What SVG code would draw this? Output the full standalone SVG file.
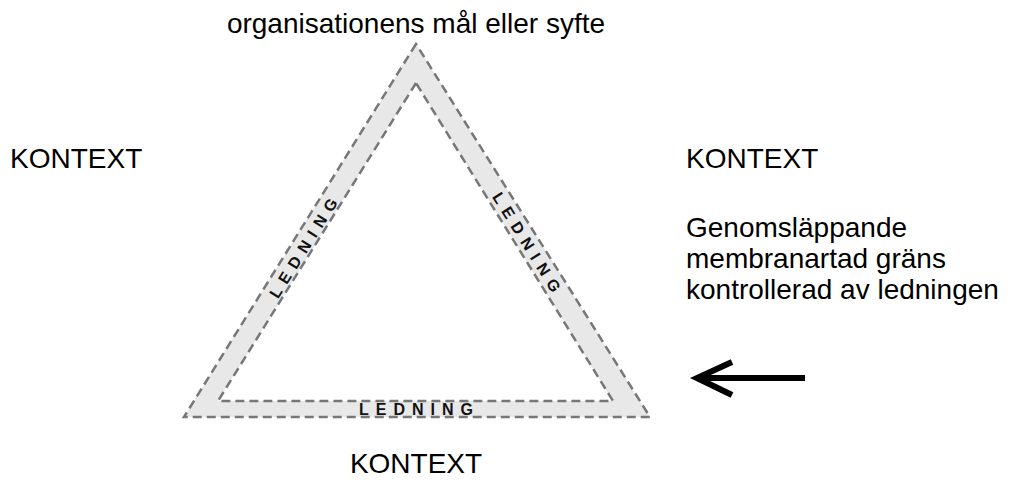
<svg xmlns="http://www.w3.org/2000/svg" width="1017" height="483" viewBox="0 0 1017 483">
  <style>
    .label { font-family: "Liberation Sans", Arial, sans-serif; font-size: 28px; fill: #000; }
    .band { fill: #e8e8e8; stroke: #777; stroke-width: 2.5; stroke-dasharray: 9 5; stroke-linejoin: miter; }
    .hole { fill: #fff; stroke: #777; stroke-width: 2.5; stroke-dasharray: 9 5; }
    .lead { font-family: "Liberation Sans", Arial, sans-serif; font-size: 16px; font-weight: bold; letter-spacing: 7px; fill: #111; }
  </style>

  <!-- management band: outer triangle with inner cut-out -->
  <g id="triangle">
    <polygon class="band" points="416,44 184,417 650,417"/>
    <polygon class="hole" points="416,83 218,401 613,401"/>
  </g>

  <!-- band labels (x offset balances the trailing letter-spacing) -->
  <g id="ledning-left">
    <text class="lead" text-anchor="middle" transform="translate(303,248) rotate(-58.1)" x="3.5" y="6">LEDNING</text>
  </g>
  <g id="ledning-right">
    <text class="lead" text-anchor="middle" transform="translate(527,242) rotate(58.1)" x="3.5" y="6">LEDNING</text>
  </g>
  <g id="ledning-bottom">
    <text class="lead" text-anchor="middle" x="419.5" y="415">LEDNING</text>
  </g>

  <!-- surrounding labels -->
  <g id="purpose">
    <text class="label" text-anchor="middle" x="416" y="33">organisationens mål eller syfte</text>
  </g>
  <g id="context-left">
    <text class="label" x="10" y="168">KONTEXT</text>
  </g>
  <g id="context-right">
    <text class="label" x="686" y="168">KONTEXT</text>
  </g>
  <g id="membrane">
    <text class="label" x="686" y="237">Genomsläppande</text>
    <text class="label" x="686" y="268">membranartad gräns</text>
    <text class="label" x="686" y="299">kontrollerad av ledningen</text>
  </g>
  <g id="context-bottom">
    <text class="label" text-anchor="middle" x="416" y="473">KONTEXT</text>
  </g>

  <!-- pointer toward the boundary -->
  <g id="connectors" fill="none" stroke="#000" stroke-width="6">
    <line x1="697" y1="378" x2="805" y2="378"/>
    <polyline points="732,362 697,378 732,395" stroke-linejoin="miter"/>
  </g>
</svg>
